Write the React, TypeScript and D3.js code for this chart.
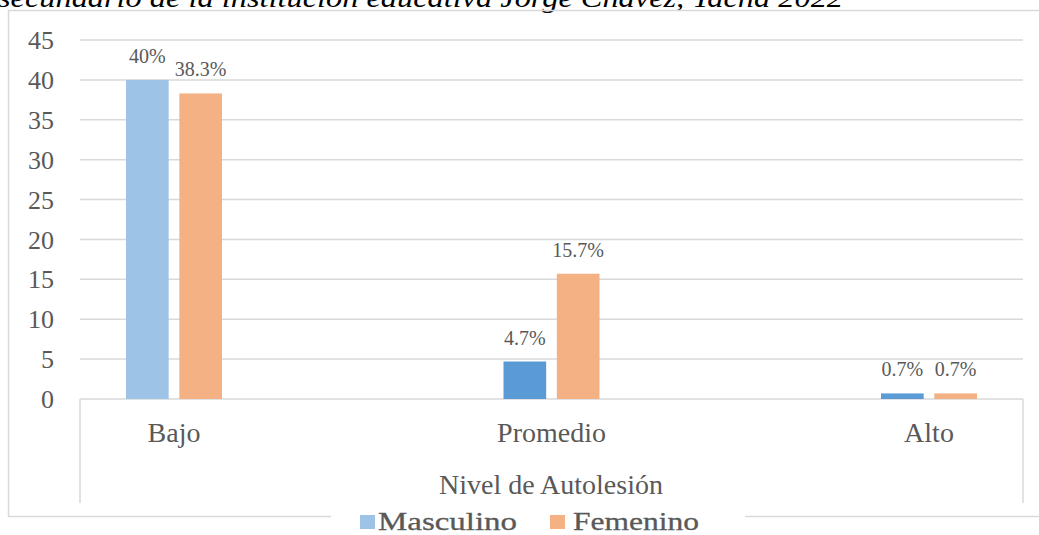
import React from "react"
import * as d3 from "d3"

// Data
const categories = ["Bajo", "Promedio", "Alto"]
const series = ["Masculino", "Femenino"]
const masculino = [40, 4.7, 0.7]
const femenino = [38.3, 15.7, 0.7]
const yTicks = [0, 5, 10, 15, 20, 25, 30, 35, 40, 45]
const title = "secundario de la institución educativa Jorge Chávez, Tacna 2022"
const xTitle = "Nivel de Autolesión"

const grey = "#595959"
const line = "#d9d9d9"
const serif = "Liberation Serif, Times New Roman, serif"

export default function App() {
  // Dimensions
  const totalW = 1039
  const totalH = 535
  const plot = { left: 80, right: 1023, top: 40, bottom: 399 }

  // Scales
  const yScale = d3.scaleLinear().domain([0, 45]).range([plot.bottom, plot.top])
  const xScale = d3.scalePoint<string>().domain(categories).range([174, 929])
  const inner = d3.scaleBand<string>().domain(series).range([-48, 48]).paddingInner(0.2)

  const values: Record<string, number[]> = { Masculino: masculino, Femenino: femenino }
  const colorFor = (s: string, i: number) =>
    s === "Femenino" ? "#F4B183" : i === 0 ? "#9DC3E6" : "#5B9BD5"

  const legendItems = [
    { name: "Masculino", sq: 360, tx: 378, len: 139, color: "#9DC3E6" },
    { name: "Femenino", sq: 550, tx: 573, len: 126, color: "#F4B183" }
  ]

  return (
    <svg
      width={totalW}
      height={totalH}
      style={{ position: "absolute", left: 0, top: 0, background: "#fff" }}
    >
      {/* title cut off at the top */}
      <text
        x={-2}
        y={7}
        fontFamily={serif}
        fontStyle="italic"
        fontSize={27}
        fill="#000"
        textLength={845}
        lengthAdjust="spacingAndGlyphs"
      >
        {title}
      </text>

      {/* chart frame */}
      <rect x={8.5} y={10.5} width={1040} height={506} fill="none" stroke={line} strokeWidth={1.5} />

      {/* gridlines and y labels */}
      {yTicks.map(t => (
        <g key={`tick-${t}`}>
          <line
            x1={plot.left}
            x2={plot.right}
            y1={yScale(t)}
            y2={yScale(t)}
            stroke={line}
            strokeWidth={1.5}
          />
          <text
            x={54}
            y={yScale(t)}
            dy="0.35em"
            textAnchor="end"
            fontFamily={serif}
            fontSize={26}
            fill={grey}
          >
            {t}
          </text>
        </g>
      ))}

      {/* category axis box */}
      <line x1={plot.left} x2={plot.left} y1={plot.bottom} y2={503} stroke={line} strokeWidth={1.5} />
      <line x1={plot.right} x2={plot.right} y1={plot.bottom} y2={503} stroke={line} strokeWidth={1.5} />

      {/* bars */}
      {categories.map((c, i) => (
        <g key={c} transform={`translate(${xScale(c)}, 0)`}>
          {series.map(s => {
            const v = values[s][i]
            const x = inner(s) as number
            return (
              <g key={`${c}-${s}`}>
                <rect
                  x={x}
                  y={yScale(v)}
                  width={inner.bandwidth()}
                  height={plot.bottom - yScale(v)}
                  fill={colorFor(s, i)}
                />
                <text
                  x={x + inner.bandwidth() / 2}
                  y={yScale(v) - 17}
                  textAnchor="middle"
                  fontFamily={serif}
                  fontSize={20}
                  fill={grey}
                >
                  {`${v}%`}
                </text>
              </g>
            )
          })}
          <text
            x={0}
            y={442}
            textAnchor="middle"
            fontFamily={serif}
            fontSize={28}
            fill={grey}
          >
            {c}
          </text>
        </g>
      ))}

      {/* x axis title */}
      <text
        x={551}
        y={494}
        textAnchor="middle"
        fontFamily={serif}
        fontSize={28}
        fill={grey}
      >
        {xTitle}
      </text>

      {/* legend */}
      <rect x={331} y={506} width={414} height={29} fill="#fff" />
      {legendItems.map(l => (
        <g key={l.name}>
          <rect x={l.sq} y={515} width={15} height={14} fill={l.color} />
          <text
            x={l.tx}
            y={530}
            fontFamily={serif}
            fontSize={25}
            fill={grey}
            stroke={grey}
            strokeWidth={0.3}
            textLength={l.len}
            lengthAdjust="spacingAndGlyphs"
          >
            {l.name}
          </text>
        </g>
      ))}
    </svg>
  )
}
